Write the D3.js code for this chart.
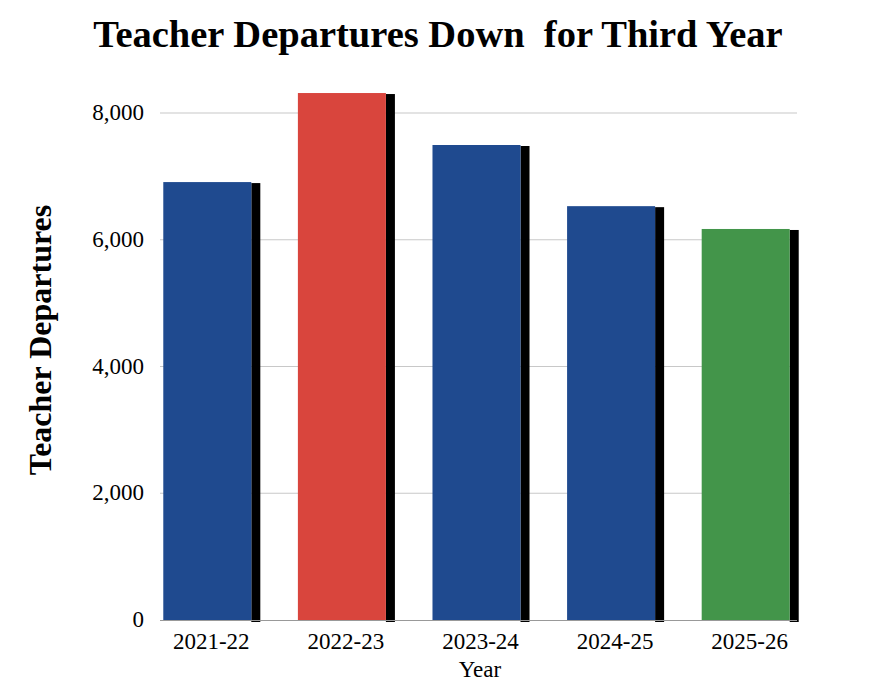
<!DOCTYPE html><html><head><meta charset="utf-8"><script src="https://cdn.jsdelivr.net/npm/d3@7"></script>
<style>body{margin:0;background:#fff}text{font-family:"Liberation Serif","Times New Roman",serif}</style></head><body><svg id="c" width="885" height="681"></svg>
<script>
const categories=["2021-22","2022-23","2023-24","2024-25","2025-26"];
const values=[6910,8315,7495,6530,6170];
const colors=["#1f4a8f","#d9453d","#1f4a8f","#1f4a8f","#43954a"];
const ticks=[0,2000,4000,6000,8000];
const svg=d3.select("#c");
const y=d3.scaleLinear().domain([0,8000]).range([620,113]);
const x=d3.scaleBand().domain(categories).range([140,813]).paddingInner(0.346).paddingOuter(0.173);
svg.append("g").selectAll("line").data(ticks.slice(1)).join("line")
 .attr("x1",160).attr("x2",797).attr("y1",d=>y(d)).attr("y2",d=>y(d)).attr("stroke","#c8c8c8").attr("stroke-width",1.2);
svg.append("g").selectAll("text").data(ticks).join("text").attr("x",144).attr("y",d=>y(d)+7)
 .attr("text-anchor","end").attr("font-size",23).text(d3.format(","));
const g=svg.append("g");
g.selectAll(".s").data(values).join("rect").attr("x",(d,i)=>x(categories[i])+x.bandwidth()).attr("width",9)
 .attr("y",d=>y(d)+1).attr("height",d=>621-y(d)).attr("fill","#000");
g.selectAll(".b").data(values).join("rect").attr("x",(d,i)=>x(categories[i])).attr("width",x.bandwidth())
 .attr("y",d=>y(d)).attr("height",d=>620-y(d)).attr("fill",(d,i)=>colors[i]);
svg.append("line").attr("x1",160).attr("x2",797).attr("y1",620.5).attr("y2",620.5).attr("stroke","#999");
svg.append("g").selectAll("text").data(categories).join("text").attr("x",d=>x(d)+x.bandwidth()/2+4).attr("y",649)
 .attr("text-anchor","middle").attr("font-size",23).text(d=>d);
svg.append("text").attr("x",480).attr("y",677).attr("text-anchor","middle").attr("font-size",23).text("Year");
svg.append("text").attr("transform","translate(51,340) rotate(-90)").attr("text-anchor","middle").attr("font-size",32).attr("font-weight","bold").text("Teacher Departures");
svg.append("text").attr("x",438).attr("y",47).attr("text-anchor","middle").attr("font-size",38.5).attr("font-weight","bold").attr("xml:space","preserve").text("Teacher Departures Down  for Third Year");
</script></body></html>
